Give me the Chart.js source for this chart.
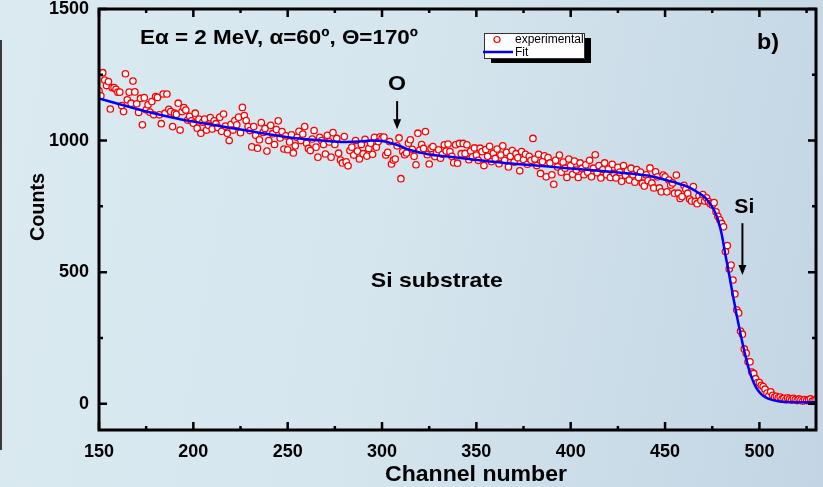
<!DOCTYPE html>
<html>
<head>
<meta charset="utf-8">
<title>RBS spectrum</title>
<script src="https://cdn.jsdelivr.net/npm/chart.js@4.4.1/dist/chart.umd.min.js"></script>
<style>
  html, body { margin: 0; padding: 0; }
  body {
    width: 823px; height: 487px; overflow: hidden; position: relative;
    background: linear-gradient(100deg, #dbeaf1 0%, #d5e6ee 45%, #c3d5e4 100%);
  }
  #edge { position: absolute; left: 0; top: 40px; width: 2px; height: 410px; background: #3a3a3a; }
  #wrap { position: absolute; left: 0; top: 0; width: 823px; height: 487px; }
</style>
</head>
<body>
<div id="edge"></div>
<div id="wrap"><canvas id="rbsChart"></canvas></div>
<script>
    // axis ticks
    const xTickValues = [150, 200, 250, 300, 350, 400, 450, 500];
    const xMinorTicks = [175, 225, 275, 325, 375, 425, 475, 525];
    const yTickValues = [0, 500, 1000, 1500];
    const yMinorTicks = [250, 750, 1250];

    // experimental counts, one per channel starting at channel 150
    const firstChannel = 150;
    const expCounts = [
        1189, 1170, 1258, 1230, 1209, 1224, 1120, 1201, 1201, 1195,
        1184, 1184, 1133, 1110, 1254, 1155, 1184, 1142, 1226, 1185,
        1140, 1107, 1160, 1060, 1163, 1117, 1136, 1108, 1148, 1098,
        1167, 1164, 1098, 1064, 1177, 1104, 1177, 1119, 1110, 1053,
        1104, 1100, 1142, 1040, 1110, 1125, 1116, 1078, 1092, 1075,
        1066, 1104, 1047, 1082, 1028, 1070, 1082, 1040, 1058, 1087,
        1044, 1075, 1064, 1050, 1089, 1035, 1101, 1055, 1028, 1000,
        1062, 1040, 1076, 1060, 1089, 1030, 1126, 1095, 1076, 1053,
        1038, 976, 1053, 1020, 971, 1003, 1068, 1031, 1046, 960,
        1000, 1058, 1026, 985, 1042, 1075, 1010, 1034, 968, 1018,
        965, 995, 1022, 953, 980, 1012, 1035, 1000, 1025, 1053,
        990, 970, 962, 1006, 1038, 975, 937, 1012, 1000, 985,
        949, 1020, 995, 937, 1030, 985, 1008, 952, 926, 915,
        1015, 919, 904, 962, 975, 945, 1000, 960, 930, 985,
        950, 1005, 941, 970, 990, 948, 1012, 975, 996, 1014,
        1008, 1013, 945, 955, 996, 911, 926, 930, 980, 1010,
        855, 958, 946, 953, 990, 1003, 967, 940, 908, 1028,
        964, 985, 970, 1034, 946, 911, 970, 977, 939, 955,
        965, 933, 948, 984, 960, 987, 958, 940, 916, 984,
        914, 989, 950, 989, 951, 984, 927, 960, 938, 972,
        945, 925, 971, 958, 905, 966, 940, 978, 920, 952,
        932, 968, 912, 945, 980, 925, 955, 900, 940, 962,
        918, 950, 935, 885, 958, 928, 948, 910, 940, 925,
        1008, 930, 905, 948, 875, 920, 942, 862, 935, 915,
        870, 834, 925, 900, 945, 880, 918, 895, 860, 930,
        905, 872, 922, 888, 860, 915, 895, 870, 908, 880,
        925, 862, 895, 946, 878, 905, 858, 890, 915, 870,
        892, 860, 910, 875, 858, 898, 880, 845, 905, 868,
        885, 850, 895, 870, 842, 890, 860, 880, 838, 827,
        870, 848, 896, 839, 820, 881, 862, 820, 805, 869,
        862, 805, 850, 831, 839, 800, 869, 800, 780, 787,
        830, 815, 800, 778, 770, 825, 768, 760, 790, 772,
        795, 770, 782, 768, 760, 755, 764, 729, 712, 699,
        685, 672, 578, 601, 512, 527, 470, 417, 357, 345,
        276, 264, 208, 192, 159, 159, 120, 115, 95, 80,
        80, 70, 65, 55, 40, 30, 45, 32, 25, 28,
        22, 25, 18, 20, 15, 22, 18, 14, 20, 16,
        12, 18, 15, 10, 16, 12, 14, 18, 10, 12, 15
    ];

    // fitted curve
    const fitChannels = [150, 160, 170, 180, 190, 200, 210, 220, 230, 240,
        250, 260, 270, 280, 288, 295, 300, 305, 310, 314,
        320, 325, 335, 345, 355, 365, 375, 385, 395, 405,
        415, 425, 435, 442, 448, 454, 460, 464, 468, 471,
        474, 476, 478, 480, 482, 484, 486, 488, 490, 492,
        494, 496, 498, 500, 502, 505, 510, 515, 522, 530];
    const fitCounts = [1160, 1140, 1120, 1102, 1086, 1072, 1060, 1048, 1036, 1024,
        1013, 1005, 999, 995, 996, 1000, 998, 990, 978, 966,
        955, 947, 939, 931, 922, 915, 909, 903, 897, 891,
        885, 879, 872, 865, 855, 843, 830, 817, 800, 785,
        758, 735, 700, 645, 565, 490, 410, 335, 265, 200,
        142, 97, 65, 44, 30, 18, 9, 6, 5, 5];

    const FONT = '"Liberation Sans", Arial, sans-serif';

    // draw text squeezed/stretched horizontally to a given width, centred on cx
    function fittedText(ctx, text, cx, cy, width) {
        const w = ctx.measureText(text).width;
        ctx.save();
        ctx.translate(cx, cy);
        ctx.scale(width / w, 1);
        ctx.textAlign = 'center';
        ctx.textBaseline = 'middle';
        ctx.fillText(text, 0, 0);
        ctx.restore();
    }

    // frame, inward ticks, labels, arrows and legend
    const decorations = {
        id: 'decorations',
        afterDraw(chart) {
            const { ctx, chartArea: a, scales: { x, y } } = chart;
            ctx.save();
            ctx.strokeStyle = '#000';
            ctx.fillStyle = '#000';

            // ticks
            ctx.lineWidth = 2.5;
            ctx.beginPath();
            const xTick = (v, len) => {
                const px = x.getPixelForValue(v);
                ctx.moveTo(px, a.bottom); ctx.lineTo(px, a.bottom - len);
                ctx.moveTo(px, a.top); ctx.lineTo(px, a.top + len);
            };
            const yTick = (v, len) => {
                const py = y.getPixelForValue(v);
                ctx.moveTo(a.left, py); ctx.lineTo(a.left + len, py);
                ctx.moveTo(a.right, py); ctx.lineTo(a.right - len, py);
            };
            xTickValues.forEach(v => xTick(v, 8));
            xMinorTicks.forEach(v => xTick(v, 4));
            yTickValues.forEach(v => yTick(v, 8));
            yMinorTicks.forEach(v => yTick(v, 4));
            ctx.stroke();

            // frame
            ctx.lineWidth = 3;
            ctx.strokeRect(a.left, a.top, a.right - a.left, a.bottom - a.top);

            // axis titles
            ctx.font = 'bold 22px ' + FONT;
            fittedText(ctx, 'Channel number', 476, 475, 182);
            ctx.save();
            ctx.translate(38, 207);
            ctx.rotate(-Math.PI / 2);
            ctx.font = 'bold 20px ' + FONT;
            fittedText(ctx, 'Counts', 0, 0, 68);
            ctx.restore();

            // annotations
            ctx.font = 'bold 20px ' + FONT;
            fittedText(ctx, 'E\u03b1 = 2 MeV, \u03b1=60\u00ba, \u0398=170\u00ba', 279, 38, 278);
            ctx.font = 'bold 22px ' + FONT;
            fittedText(ctx, 'b)', 768, 43, 22);
            ctx.font = 'bold 21px ' + FONT;
            fittedText(ctx, 'O', x.getPixelForValue(308), y.getPixelForValue(1215), 18);
            fittedText(ctx, 'Si', x.getPixelForValue(492), y.getPixelForValue(745), 20);
            fittedText(ctx, 'Si substrate', x.getPixelForValue(329), y.getPixelForValue(465), 132);

            const arrow = (ch, fromVal, toVal) => {
                const px = x.getPixelForValue(ch);
                const y0 = y.getPixelForValue(fromVal);
                const y1 = y.getPixelForValue(toVal);
                ctx.lineWidth = 2;
                ctx.beginPath();
                ctx.moveTo(px, y0); ctx.lineTo(px, y1 - 8);
                ctx.stroke();
                ctx.beginPath();
                ctx.moveTo(px - 4, y1 - 10); ctx.lineTo(px + 4, y1 - 10); ctx.lineTo(px, y1);
                ctx.closePath();
                ctx.fill();
            };
            arrow(308, 1150, 1043);
            arrow(491, 686, 489);

            // legend box with shadow
            ctx.fillStyle = '#000';
            ctx.fillRect(491, 38, 100, 25);
            ctx.fillStyle = '#fff';
            ctx.fillRect(484, 33, 100, 25);
            ctx.lineWidth = 1;
            ctx.strokeStyle = '#333';
            ctx.strokeRect(484.5, 33.5, 100, 25);
            ctx.beginPath();
            ctx.arc(497, 39.5, 3, 0, Math.PI * 2);
            ctx.fillStyle = '#fff';
            ctx.fill();
            ctx.strokeStyle = '#ff0000';
            ctx.lineWidth = 1.2;
            ctx.stroke();
            ctx.beginPath();
            ctx.strokeStyle = '#0000ff';
            ctx.lineWidth = 2.5;
            ctx.moveTo(483, 52); ctx.lineTo(513, 52);
            ctx.stroke();
            ctx.fillStyle = '#000';
            ctx.textAlign = 'left';
            ctx.textBaseline = 'middle';
            ctx.font = '12px ' + FONT;
            ctx.fillText('experimental', 515, 40);
            ctx.fillText('Fit', 515, 53);

            ctx.restore();
        }
    };

    document.addEventListener('DOMContentLoaded', function () {
        const ctx = document.getElementById('rbsChart').getContext('2d');

        new Chart(ctx, {
            type: 'scatter',
            data: {
                datasets: [
                    {
                        label: 'Fit',
                        type: 'line',
                        data: fitChannels.map((c, i) => ({ x: c, y: fitCounts[i] })),
                        borderColor: '#0000ff',
                        borderWidth: 2.5,
                        pointRadius: 0,
                        fill: false,
                        cubicInterpolationMode: 'monotone',
                        order: 0
                    },
                    {
                        label: 'experimental',
                        data: expCounts.map((c, i) => ({ x: firstChannel + i, y: c })),
                        pointRadius: 3.2,
                        pointHoverRadius: 3.2,
                        borderWidth: 1.3,
                        borderColor: '#ff0000',
                        backgroundColor: '#ffffff',
                        order: 1
                    }
                ]
            },
            options: {
                responsive: true,
                maintainAspectRatio: false,
                animation: false,
                layout: { padding: { top: 9, right: 7, left: 0, bottom: 0 } },
                scales: {
                    x: {
                        type: 'linear',
                        min: 150,
                        max: 530,
                        grid: { display: false, drawTicks: false },
                        border: { display: false },
                        ticks: {
                            color: '#000',
                            padding: 11,
                            maxRotation: 0,
                            font: { family: FONT, size: 18, weight: 'bold' },
                            callback: v => String(v)
                        },
                        afterBuildTicks: s => { s.ticks = xTickValues.map(v => ({ value: v })); },
                        afterFit: s => { s.height = 57; s.paddingLeft = 0; s.paddingRight = 0; }
                    },
                    y: {
                        type: 'linear',
                        min: -100,
                        max: 1500,
                        grid: { display: false, drawTicks: false },
                        border: { display: false },
                        ticks: {
                            color: '#000',
                            padding: 10,
                            font: { family: FONT, size: 18, weight: 'bold' },
                            callback: v => String(v)
                        },
                        afterBuildTicks: s => { s.ticks = yTickValues.map(v => ({ value: v })); },
                        afterFit: s => { s.width = 99; s.paddingTop = 0; s.paddingBottom = 0; }
                    }
                },
                plugins: {
                    legend: { display: false },
                    tooltip: { enabled: false }
                }
            },
            plugins: [decorations]
        });
    });
</script>
</body>
</html>
